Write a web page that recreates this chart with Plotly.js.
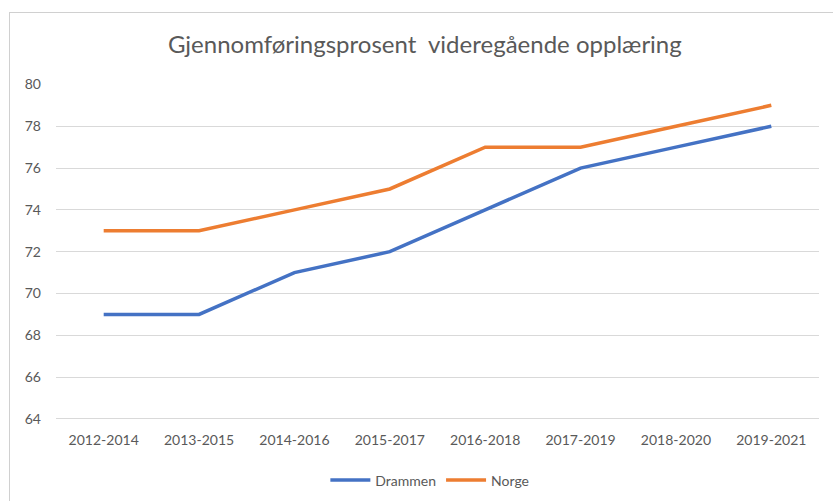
<!DOCTYPE html>
<html><head><meta charset="utf-8">
<script src="https://cdn.plot.ly/plotly-3.0.1.min.js"></script>
<style>
html,body{margin:0;padding:0;background:#fff;overflow:hidden;}
#wrap{position:relative;width:833px;height:501px;}
#chart{position:absolute;left:0;top:0;width:833px;height:501px;}
#frame{position:absolute;left:9px;top:12px;width:900px;height:600px;border-left:1px solid #d0d0d0;border-top:1px solid #d0d0d0;pointer-events:none;}
</style></head>
<body>
<div id="wrap"><div id="chart"></div><div id="frame"></div></div>
<script>
const categories = ["2012-2014","2013-2015","2014-2016","2015-2017","2016-2018","2017-2019","2018-2020","2019-2021"];
const drammen = [69, 69, 71, 72, 74, 76, 77, 78];
const norge = [73, 73, 74, 75, 77, 77, 78, 79];
const yTicks = [64, 66, 68, 70, 72, 74, 76, 78, 80];

const font = "Lato, 'Open Sans', sans-serif";
const traces = [
  {x: categories, y: drammen, name: "Drammen", type: "scatter", mode: "lines",
   line: {color: "#4472C4", width: 3.5}},
  {x: categories, y: norge, name: "Norge", type: "scatter", mode: "lines",
   line: {color: "#ED7D31", width: 3.5}}
];
const layout = {
  width: 833, height: 501,
  margin: {l: 56, r: 14, t: 84, b: 81, autoexpand: false},
  paper_bgcolor: "#ffffff", plot_bgcolor: "#ffffff",
  font: {family: font, color: "#595959", size: 13},
  title: {text: "Gjennomføringsprosent  videregående opplæring", x: 0.51, xanchor: "center", y: 0.91, yanchor: "middle",
          font: {family: font, size: 24, color: "#595959"}},
  xaxis: {type: "category", range: [-0.5, 7.5], showgrid: false, zeroline: false, showline: false, ticks: "",
          ticklabelstandoff: 10, tickfont: {size: 14, color: "#595959"}, fixedrange: true, automargin: false},
  yaxis: {range: [63.95, 80.02], tickvals: yTicks, ticktext: yTicks.map(String), showgrid: true, gridcolor: "#D9D9D9", gridwidth: 1,
          zeroline: false, showline: false, ticks: "", ticklabelstandoff: 14, tickfont: {size: 14, color: "#595959"}, fixedrange: true, automargin: false},
  showlegend: true,
  legend: {orientation: "h", x: 0.49, xanchor: "center", y: -0.18, yanchor: "middle",
           font: {size: 14, color: "#595959"}, itemwidth: 40, traceorder: "normal"}
};
Plotly.newPlot("chart", traces, layout, {displayModeBar: false, staticPlot: true});
</script>
</body></html>
